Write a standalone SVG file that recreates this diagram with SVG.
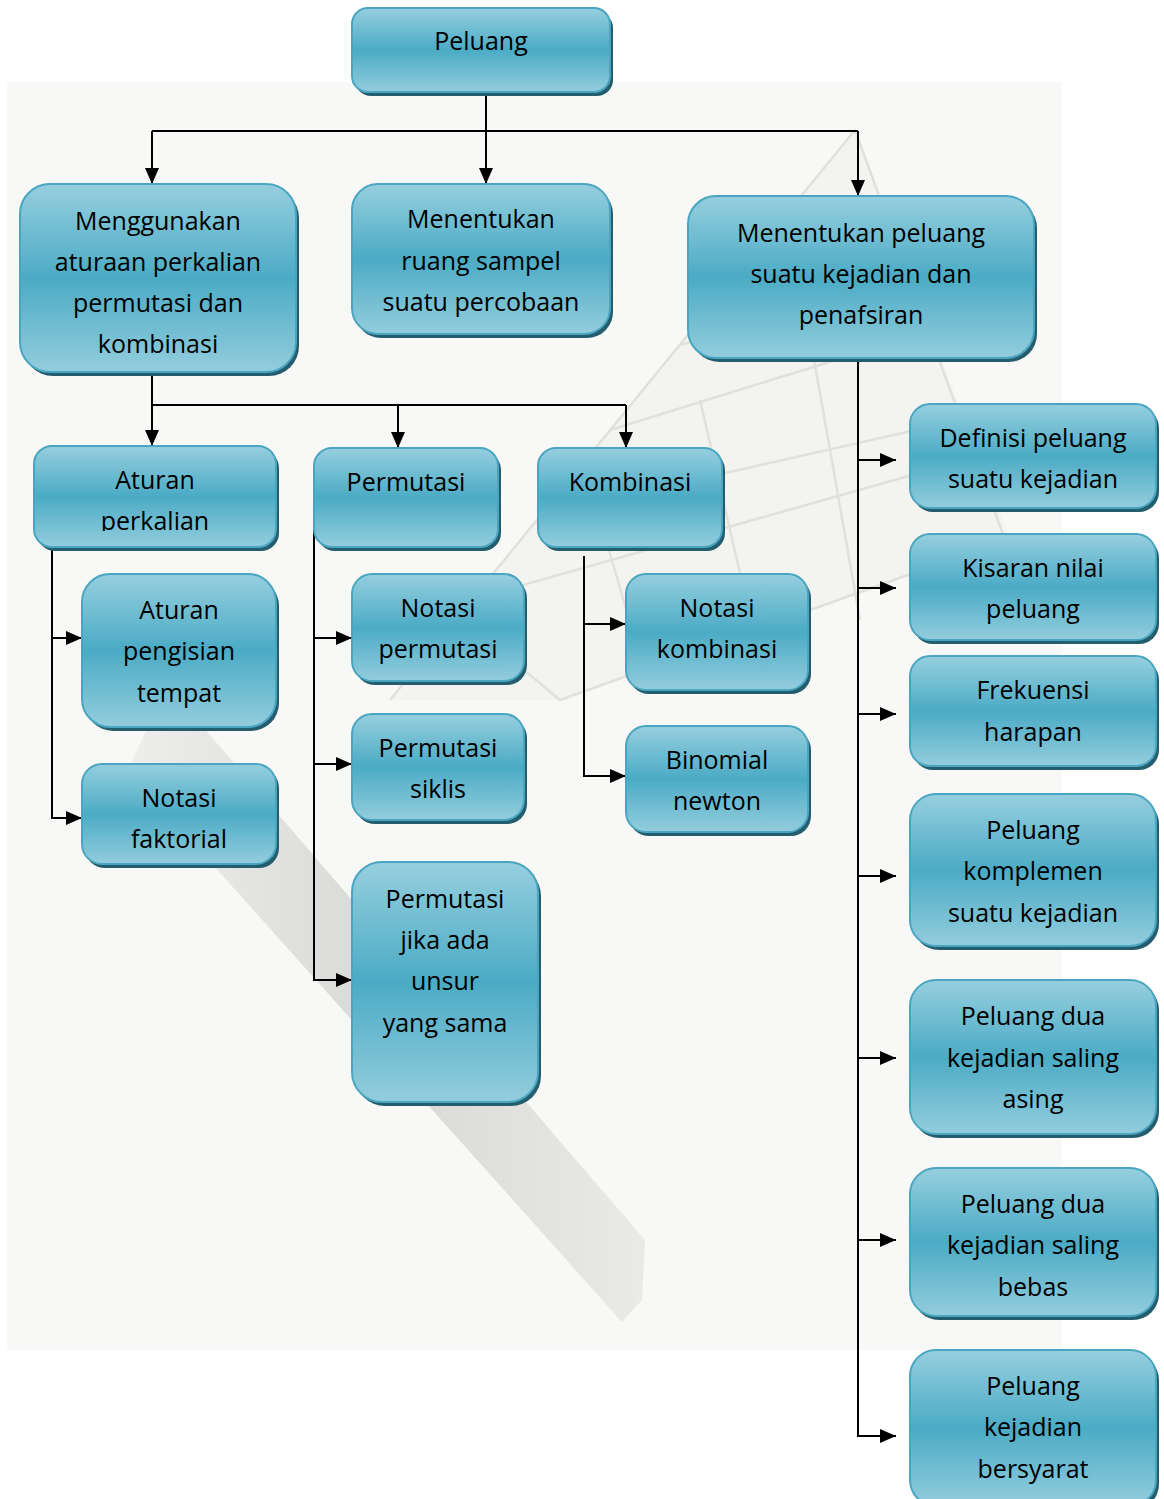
<svg xmlns="http://www.w3.org/2000/svg" width="1164" height="1499" viewBox="0 0 1164 1499">
<style>
  .sh { fill: #245d6e; }
  .bx { fill: url(#g); stroke: #4aa6c0; stroke-width: 2; }
  .t { font-family: "Open Sans", "Noto Sans", sans-serif; font-size: 25px; fill: #000; text-anchor: middle; }
  .c { fill: none; stroke: #000; stroke-width: 2; }
  .ca { fill: none; stroke: #000; stroke-width: 2; marker-end: url(#ah); }
  .bgl { fill: none; stroke: #e0e0dd; stroke-width: 2.5; }
</style>
<defs>
  <linearGradient id="g" x1="0" y1="0" x2="0" y2="1">
    <stop offset="0" stop-color="#96cfdf"/>
    <stop offset="0.5" stop-color="#4babc5"/>
    <stop offset="1" stop-color="#93cddd"/>
  </linearGradient>
  <linearGradient id="pen" x1="0" y1="0" x2="1" y2="0">
    <stop offset="0" stop-color="#ebebe9"/>
    <stop offset="0.5" stop-color="#d0d0ce"/>
    <stop offset="1" stop-color="#e6e6e4"/>
  </linearGradient>
  <marker id="ah" markerUnits="userSpaceOnUse" markerWidth="16" markerHeight="14" refX="16" refY="7" orient="auto">
    <path d="M0,0 L16,7 L0,14 z" fill="#000"/>
  </marker>
  <clipPath id="clipA"><rect x="20" y="184" width="280" height="169"/></clipPath>
  <clipPath id="clipB"><rect x="34" y="446" width="245" height="85"/></clipPath>
</defs>

<g id="background">
  <rect x="0" y="0" width="1164" height="1499" fill="#ffffff"/>
  <rect x="7" y="82" width="1055" height="1268" fill="#f8f8f6"/>
  <polygon points="390,700 855,130 1010,540 560,700" fill="#f1f1ee" opacity="0.8"/>
  <path class="bgl" d="M390,700 L855,130 M855,130 L1005,540 M560,700 L1005,540 M470,600 L930,470 M540,515 L960,420 M610,430 L900,340 M680,345 L880,290 M750,260 L860,230 M500,650 L560,700 M600,520 L650,690 M700,400 L760,660 M800,280 L860,620"/>
  <polygon points="150,722 190,712 645,1240 642,1300 622,1322 128,770" fill="url(#pen)" opacity="0.8"/>
</g>

<g id="connectors">
  <path class="ca" d="M486,92 V184"/>
  <path class="c" d="M152,131 H858"/>
  <path class="ca" d="M152,131 V184"/>
  <path class="ca" d="M858,131 V196"/>

  <path class="ca" d="M152,372 V446"/>
  <path class="c" d="M152,405 H626"/>
  <path class="ca" d="M398,405 V448"/>
  <path class="ca" d="M626,405 V448"/>

  <path class="ca" d="M52,547 V818 H82"/>
  <path class="ca" d="M52,638 H82"/>

  <path class="ca" d="M314,527 V980 H352"/>
  <path class="ca" d="M314,638 H352"/>
  <path class="ca" d="M314,764 H352"/>

  <path class="ca" d="M584,556 V776 H626"/>
  <path class="ca" d="M584,624 H626"/>

  <path class="ca" d="M858,358 V1436 H896"/>
  <path class="ca" d="M858,460 H896"/>
  <path class="ca" d="M858,588 H896"/>
  <path class="ca" d="M858,714 H896"/>
  <path class="ca" d="M858,876 H896"/>
  <path class="ca" d="M858,1058 H896"/>
  <path class="ca" d="M858,1240 H896"/>
</g>

<g id="n-peluang">
  <rect class="sh" x="355" y="12" width="258" height="84" rx="16"/>
  <rect class="bx" x="352" y="8" width="258" height="84" rx="16"/>
  <text class="t" x="481" y="50">Peluang</text>
</g>

<g id="n-menggunakan">
  <rect class="sh" x="23" y="188" width="276" height="188" rx="30"/>
  <rect class="bx" x="20" y="184" width="276" height="188" rx="30"/>
  <g clip-path="url(#clipA)">
    <text class="t" x="158" y="230">Menggunakan</text>
    <text class="t" x="158" y="271">aturaan perkalian</text>
    <text class="t" x="158" y="312">permutasi dan</text>
    <text class="t" x="158" y="353">kombinasi</text>
  </g>
</g>

<g id="n-ruang">
  <rect class="sh" x="355" y="188" width="258" height="150" rx="26"/>
  <rect class="bx" x="352" y="184" width="258" height="150" rx="26"/>
  <text class="t" x="481" y="228">Menentukan</text>
  <text class="t" x="481" y="270">ruang sampel</text>
  <text class="t" x="481" y="311">suatu percobaan</text>
</g>

<g id="n-menentukan-peluang">
  <rect class="sh" x="691" y="200" width="346" height="162" rx="28"/>
  <rect class="bx" x="688" y="196" width="346" height="162" rx="28"/>
  <text class="t" x="861" y="242">Menentukan peluang</text>
  <text class="t" x="861" y="283">suatu kejadian dan</text>
  <text class="t" x="861" y="324">penafsiran</text>
</g>

<g id="n-aturan-perkalian">
  <rect class="sh" x="37" y="450" width="242" height="101" rx="18"/>
  <rect class="bx" x="34" y="446" width="242" height="101" rx="18"/>
  <g clip-path="url(#clipB)">
    <text class="t" x="155" y="489">Aturan</text>
    <text class="t" x="155" y="530">perkalian</text>
  </g>
</g>

<g id="n-permutasi">
  <rect class="sh" x="317" y="452" width="184" height="99" rx="18"/>
  <rect class="bx" x="314" y="448" width="184" height="99" rx="18"/>
  <text class="t" x="406" y="491">Permutasi</text>
</g>

<g id="n-kombinasi">
  <rect class="sh" x="541" y="452" width="184" height="99" rx="18"/>
  <rect class="bx" x="538" y="448" width="184" height="99" rx="18"/>
  <text class="t" x="630" y="491">Kombinasi</text>
</g>

<g id="n-aturan-pengisian">
  <rect class="sh" x="85" y="578" width="194" height="153" rx="28"/>
  <rect class="bx" x="82" y="574" width="194" height="153" rx="28"/>
  <text class="t" x="179" y="619">Aturan</text>
  <text class="t" x="179" y="660">pengisian</text>
  <text class="t" x="179" y="702">tempat</text>
</g>

<g id="n-notasi-faktorial">
  <rect class="sh" x="85" y="768" width="194" height="100" rx="20"/>
  <rect class="bx" x="82" y="764" width="194" height="100" rx="20"/>
  <text class="t" x="179" y="807">Notasi</text>
  <text class="t" x="179" y="848">faktorial</text>
</g>

<g id="n-notasi-permutasi">
  <rect class="sh" x="355" y="578" width="172" height="107" rx="20"/>
  <rect class="bx" x="352" y="574" width="172" height="107" rx="20"/>
  <text class="t" x="438" y="617">Notasi</text>
  <text class="t" x="438" y="658">permutasi</text>
</g>

<g id="n-permutasi-siklis">
  <rect class="sh" x="355" y="718" width="172" height="106" rx="20"/>
  <rect class="bx" x="352" y="714" width="172" height="106" rx="20"/>
  <text class="t" x="438" y="757">Permutasi</text>
  <text class="t" x="438" y="798">siklis</text>
</g>

<g id="n-permutasi-unsur">
  <rect class="sh" x="355" y="866" width="186" height="240" rx="30"/>
  <rect class="bx" x="352" y="862" width="186" height="240" rx="30"/>
  <text class="t" x="445" y="908">Permutasi</text>
  <text class="t" x="445" y="949">jika ada</text>
  <text class="t" x="445" y="990">unsur</text>
  <text class="t" x="445" y="1032">yang sama</text>
</g>

<g id="n-notasi-kombinasi">
  <rect class="sh" x="629" y="578" width="182" height="116" rx="20"/>
  <rect class="bx" x="626" y="574" width="182" height="116" rx="20"/>
  <text class="t" x="717" y="617">Notasi</text>
  <text class="t" x="717" y="658">kombinasi</text>
</g>

<g id="n-binomial">
  <rect class="sh" x="629" y="730" width="182" height="106" rx="20"/>
  <rect class="bx" x="626" y="726" width="182" height="106" rx="20"/>
  <text class="t" x="717" y="769">Binomial</text>
  <text class="t" x="717" y="810">newton</text>
</g>

<g id="n-definisi">
  <rect class="sh" x="913" y="408" width="246" height="104" rx="20"/>
  <rect class="bx" x="910" y="404" width="246" height="104" rx="20"/>
  <text class="t" x="1033" y="447">Definisi peluang</text>
  <text class="t" x="1033" y="488">suatu kejadian</text>
</g>

<g id="n-kisaran">
  <rect class="sh" x="913" y="538" width="246" height="106" rx="20"/>
  <rect class="bx" x="910" y="534" width="246" height="106" rx="20"/>
  <text class="t" x="1033" y="577">Kisaran nilai</text>
  <text class="t" x="1033" y="618">peluang</text>
</g>

<g id="n-frekuensi">
  <rect class="sh" x="913" y="660" width="246" height="110" rx="20"/>
  <rect class="bx" x="910" y="656" width="246" height="110" rx="20"/>
  <text class="t" x="1033" y="699">Frekuensi</text>
  <text class="t" x="1033" y="741">harapan</text>
</g>

<g id="n-komplemen">
  <rect class="sh" x="913" y="798" width="246" height="152" rx="26"/>
  <rect class="bx" x="910" y="794" width="246" height="152" rx="26"/>
  <text class="t" x="1033" y="839">Peluang</text>
  <text class="t" x="1033" y="880">komplemen</text>
  <text class="t" x="1033" y="922">suatu kejadian</text>
</g>

<g id="n-saling-asing">
  <rect class="sh" x="913" y="984" width="246" height="154" rx="26"/>
  <rect class="bx" x="910" y="980" width="246" height="154" rx="26"/>
  <text class="t" x="1033" y="1025">Peluang dua</text>
  <text class="t" x="1033" y="1067">kejadian saling</text>
  <text class="t" x="1033" y="1108">asing</text>
</g>

<g id="n-saling-bebas">
  <rect class="sh" x="913" y="1172" width="246" height="148" rx="26"/>
  <rect class="bx" x="910" y="1168" width="246" height="148" rx="26"/>
  <text class="t" x="1033" y="1213">Peluang dua</text>
  <text class="t" x="1033" y="1254">kejadian saling</text>
  <text class="t" x="1033" y="1296">bebas</text>
</g>

<g id="n-bersyarat">
  <rect class="sh" x="913" y="1354" width="246" height="156" rx="26"/>
  <rect class="bx" x="910" y="1350" width="246" height="156" rx="26"/>
  <text class="t" x="1033" y="1395">Peluang</text>
  <text class="t" x="1033" y="1436">kejadian</text>
  <text class="t" x="1033" y="1478">bersyarat</text>
</g>
</svg>
